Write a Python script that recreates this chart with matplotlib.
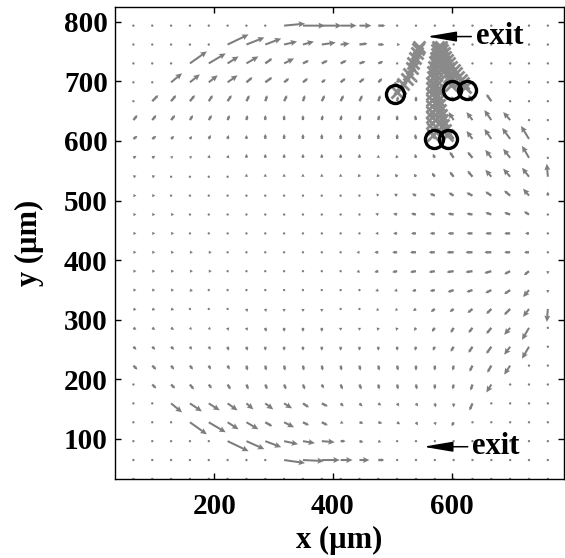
import numpy as np
import matplotlib.pyplot as plt

# grid of the velocity field (um), columns left->right, rows top->bottom
x_grid = np.linspace(32, 762, 24)
y_grid = np.linspace(825, 33, 26)

# arrow components (screen pixels, +x right, +y up)
U = [
    [0]*24,
    [0, 0, 0, 0, 0, 0, 0, 0, 0, 21, 22, 20, 16, 12, 7, 0, 0, 0, 0, 0, 0, 0, 0, 0],
    [0, 0, 0, 0, 0, 0, 21, 18, 16, 13, 11, 14, 9, 8, 6, 3, 0, 0, 0, 0, 0, 0, 0, 0],
    [0, 0, 0, 0, 17, 17, 11, 12, 7, 10, 6, 6, 6, 6, 5, 2, 0, 0, 0, 0, 0, 0, 0, 0],
    [0, 0, 0, 11, 10, 9, 10, 6, 7, 5, 5, 4, 5, 5, 4, 2, 1, 0, 0, 0, 0, 0, 0, 0],
    [0, 0, 6, 5, 5, 4, 4, 3, 2, 3, 2, 3, 3, 3, 2, 1, 0, -1, -2, -4, -5, 0, 0, 0],
    [0, 4, 4, 4, 3, 3, 2, 1, 0, 0, 0, 1, 1, 1, 1, 0, -1, -2, -5, -6, -7, -7, 0, 0],
    [0, 4, 4, 3, 2, 2, 1, 0, 0, 0, 0, 0, 0, 0, 0, 0, -1, -2, -5, -6, -7, -8, -8, 0],
    [0, 3, 3, 2, 2, 1, 1, 0, 0, 0, 0, 0, 0, 0, 0, -1, -1, -2, -4, -5, -6, -7, -7, 0],
    [0, 3, 3, 2, 2, 1, 1, 0, 0, 0, 0, 0, 0, -1, -1, -2, -2, -3, -4, -5, -6, -7, -7, -1],
    [0, 3, 3, 2, 2, 1, 1, 0, 0, 0, 0, 0, 0, -1, -2, -3, -4, -5, -5, -6, -6, -6, -6, 0],
    [0, 3, 3, 3, 2, 2, 1, 1, 1, 0, 0, 0, -1, -2, -3, -4, -5, -5, -6, -6, -6, -6, -5, 0],
    [0, 3, 3, 3, 2, 2, 1, 0, 0, 0, 0, 1, -1, -2, -3, -4, -5, -5, -6, -6, -6, -6, -4, 0],
    [0, 3, 3, 3, 3, 3, 1, 0, 0, 0, 0, 2, -1, -3, -4, -5, -6, -6, -7, -7, -7, -6, -5, 0],
    [0, 3, 3, 3, 3, 3, 2, 1, 1, 0, 0, 1, -1, -3, -4, -5, -6, -6, -7, -7, -7, -6, -5, 0],
    [0, 3, 3, 3, 3, 2, 2, 1, 1, 0, 0, 0, -1, -2, -3, -3, -4, -5, -6, -6, -6, -6, -6, 0],
    [0, 3, 3, 3, 2, 2, 1, 1, 1, 0, 0, 0, 0, -1, -2, -2, -3, -4, -4, -5, -5, -6, -6, -1],
    [0, 3, 3, 3, 2, 2, 1, 1, 1, 0, 0, 0, 0, 0, -1, -1, -2, -3, -3, -4, -5, -6, -7, 0],
    [0, 3, 3, 3, 2, 2, 1, 1, 0, 0, 0, 0, 0, 0, 0, 0, -1, -2, -3, -4, -5, -6, -7, 0],
    [0, 4, 4, 3, 3, 2, 2, 1, 1, 1, 1, 1, 1, 1, 1, 1, 0, 0, -1, -3, -4, -6, 0, 0],
    [0, 0, 4, 4, 4, 3, 3, 2, 2, 2, 2, 2, 2, 2, 1, 1, 1, 0, -1, -2, -5, 0, 0, 0],
    [0, 0, 0, 11, 12, 11, 10, 7, 8, 8, 6, 6, 3, 3, 3, 2, 2, 1, 0, -3, 0, 0, 0, 0],
    [0, 0, 0, 0, 17, 17, 11, 12, 7, 10, 6, 6, 3, 4, 4, 3, 2, 1, -2, 0, 0, 0, 0, 0],
    [0, 0, 0, 0, 0, 0, 21, 18, 16, 14, 12, 13, 5, 4, 3, 2, 0, 0, 0, 0, 0, 0, 0, 0],
    [0, 0, 0, 0, 0, 0, 0, 0, 0, 21, 21, 18, 12, 10, 6, 0, 0, 0, 0, 0, 0, 0, 0, 0],
    [0]*24,
]
V = [
    [0]*24,
    [0, 0, 0, 0, 0, 0, 0, 0, 0, 2, 0, 0, 0, 0, 0, 0, 0, 0, 0, 0, 0, 0, 0, 0],
    [0, 0, 0, 0, 0, 0, 10, 7, 6, 3, 3, 2, 1, 1, 0, 0, 0, 0, 0, 0, 0, 0, 0, 0],
    [0, 0, 0, 0, 12, 10, 7, 7, 5, 5, 3, 3, 3, 2, 2, 1, 0, 0, 0, 0, 0, 0, 0, 0],
    [0, 0, 0, 9, 8, 7, 7, 5, 5, 4, 4, 3, 4, 4, 4, 3, 3, 0, 0, 0, 0, 0, 0, 0],
    [0, 0, 6, 6, 6, 6, 6, 6, 6, 6, 6, 6, 6, 6, 6, 5, 5, 5, 5, 6, 7, 0, 0, 0],
    [0, 5, 5, 5, 5, 5, 5, 5, 5, 5, 5, 5, 5, 5, 5, 5, 5, 6, 8, 8, 10, 8, 0, 0],
    [0, 3, 3, 3, 3, 4, 4, 4, 5, 5, 5, 5, 5, 5, 5, 5, 5, 5, 7, 8, 10, 11, 13, 0],
    [0, 2, 2, 2, 2, 3, 3, 4, 4, 4, 4, 4, 4, 4, 3, 3, 4, 4, 6, 6, 8, 9, 12, 2],
    [0, 1, 1, 1, 1, 2, 2, 3, 3, 3, 3, 3, 3, 3, 3, 3, 3, 4, 5, 6, 7, 8, 9, 13],
    [0, 0, 0, 0, 1, 1, 1, 1, 1, 2, 2, 2, 2, 2, 2, 2, 2, 2, 3, 3, 4, 5, 7, 4],
    [0, 0, 0, 0, 0, 0, 0, 0, 0, 1, 0, 1, 0, 1, 1, 1, 1, 1, 1, 1, 2, 2, 3, 2],
    [0]*24,
    [0]*24,
    [0, 0, 0, 0, 0, 0, 0, 0, 0, 0, 0, -1, 0, -1, -1, -1, -1, -1, -1, -1, -2, -3, -4, -3],
    [0, 0, 0, 0, -1, -1, -1, -1, -1, -1, -1, -1, -1, -1, -1, -1, -1, -1, -2, -2, -3, -4, -7, -3],
    [0, -1, -1, -1, -1, -1, -2, -3, -3, -3, -3, -3, -2, -2, -2, -2, -2, -3, -3, -4, -5, -6, -8, -13],
    [0, -2, -2, -2, -2, -2, -3, -3, -4, -4, -4, -4, -3, -3, -3, -3, -3, -4, -5, -5, -6, -7, -12, 0],
    [0, -3, -3, -3, -3, -3, -4, -4, -4, -4, -4, -4, -4, -4, -4, -4, -4, -4, -5, -6, -7, -8, -12, 0],
    [0, -4, -4, -4, -4, -4, -4, -5, -5, -5, -5, -5, -5, -5, -5, -5, -5, -5, -5, -6, -7, -9, 0, 0],
    [0, 0, -4, -4, -5, -4, -5, -5, -5, -5, -5, -4, -5, -5, -5, -5, -5, -5, -5, -6, -8, 0, 0, 0],
    [0, 0, 0, -9, -8, -7, -7, -6, -6, -5, -4, -3, -3, -3, -2, -3, -3, -4, -4, -7, 0, 0, 0, 0],
    [0, 0, 0, 0, -12, -10, -7, -7, -4, -5, -3, -3, -1, -1, -1, -2, -3, -3, -4, 0, 0, 0, 0, 0],
    [0, 0, 0, 0, 0, 0, -10, -8, -6, -3, -2, -1, 0, -1, -1, -1, 0, 0, 0, 0, 0, 0, 0, 0],
    [0, 0, 0, 0, 0, 0, 0, 0, 0, -3, -1, 0, 0, 0, 0, 0, 0, 0, 0, 0, 0, 0, 0, 0],
    [0]*24,
]

# particle tracks (um)
tracks = {
    "A": ([507.3, 512.9, 518.5, 524.1, 528.6, 532.6, 535.4, 538.2, 541.0, 543.2, 544.9],
          [682.6, 688.2, 695.5, 703.3, 712.2, 721.7, 730.1, 739.6, 748.0, 754.7, 758.1]),
    "B": ([598.3, 596.6, 594.9, 592.7, 590.4, 588.2, 585.9, 584.2, 582.6, 580.9, 579.7],
          [693.8, 701.0, 707.8, 714.5, 721.2, 727.3, 733.5, 739.6, 745.2, 750.8, 755.8]),
    "C": ([622.4, 619.1, 615.1, 611.2, 607.3, 603.3, 599.4, 595.5, 592.1, 589.3, 586.5, 583.7, 581.4],
          [691.0, 696.6, 702.2, 707.8, 713.3, 718.9, 724.5, 730.1, 735.7, 741.3, 746.9, 752.5, 757.0]),
    "D": ([569.1, 568.0, 567.4, 566.8, 566.3, 566.3, 566.3, 566.3, 566.8, 567.4, 568.0, 569.1,
           570.2, 571.3, 573.0, 574.7, 575.8, 577.5],
          [609.9, 619.4, 629.5, 639.5, 649.0, 658.5, 668.6, 678.7, 688.2, 697.7, 707.8, 716.1,
           724.5, 731.8, 738.5, 745.8, 752.5, 758.1]),
    "E": ([591.5, 588.7, 585.9, 583.7, 582.0, 580.3, 579.2, 577.5, 575.8, 574.7, 573.6, 573.0,
           573.0, 573.6, 574.7, 575.8, 576.9, 578.1, 579.2],
          [609.9, 618.3, 626.7, 635.1, 643.5, 651.8, 660.2, 668.6, 677.0, 685.4, 693.8, 702.2,
           710.5, 718.9, 727.3, 734.6, 741.3, 748.6, 755.3]),
}
# starting positions (um)
start_x = [504.5, 600.0, 625.0, 571.0, 594.0]
start_y = [679.0, 686.0, 685.0, 604.0, 604.0]

# exits (arrow head positions, um)
exit_x = [558, 552]
exit_y = [775, 87]

plt.rcParams["font.family"] = "Liberation Serif"
plt.rcParams["font.weight"] = "bold"

fig = plt.figure(figsize=(5.65, 5.58), dpi=100)
ax = fig.add_axes([0.203, 0.1416, 0.7952, 0.8464])

X, Y = np.meshgrid(x_grid, y_grid)
Ua = np.array(U, float)
Va = np.array(V, float)
long_mask = np.hypot(Ua, Va) >= 9
gray = "#7d7d7d"

# long arrows: visible heads
ax.quiver(X[long_mask], Y[long_mask], Ua[long_mask], Va[long_mask], color=gray,
          angles="xy", scale_units="xy", scale=0.595, pivot="tail",
          width=0.0045, headwidth=3, headlength=3.2, headaxislength=2.8,
          zorder=2)
# short arrows and dots: mostly shaft, tiny heads
ax.quiver(X[~long_mask], Y[~long_mask], Ua[~long_mask], Va[~long_mask], color=gray,
          angles="xy", scale_units="xy", scale=0.595, pivot="tail",
          width=0.0052, headwidth=1.5, headlength=1.3, headaxislength=1.2,
          minshaft=1, minlength=1.1, zorder=2)

for name, (tx, ty) in tracks.items():
    ax.plot(tx, ty, linestyle="none", marker="x", color="#8a8a8a",
            markersize=8.5, markeredgewidth=2.0, zorder=3)

ax.plot(start_x, start_y, linestyle="none", marker="o", markersize=13,
        markerfacecolor="none", markeredgecolor="black", markeredgewidth=2.4,
        zorder=4)

for ex, ey in zip(exit_x, exit_y):
    ax.annotate("", xy=(ex, ey), xytext=(ex + 75, ey),
                arrowprops=dict(arrowstyle="-|>,head_length=1.0,head_width=0.17",
                                color="black", lw=1.1, mutation_scale=18,
                                shrinkA=0, shrinkB=0), zorder=5)
    ax.text(ex + 83, ey, "exit", fontsize=22, fontweight="bold",
            ha="left", va="center", zorder=5)

ax.set_xlim(32.2, 789.2)
ax.set_ylim(32.9, 825.1)
ax.set_xticks([200, 400, 600])
ax.set_yticks([100, 200, 300, 400, 500, 600, 700, 800])
ax.tick_params(direction="in", length=4, width=1, top=True, right=True,
               labelsize=21)
ax.tick_params(axis="x", pad=10)
ax.tick_params(axis="y", pad=5)
for lab in ax.get_xticklabels() + ax.get_yticklabels():
    lab.set_fontweight("bold")
for sp in ax.spines.values():
    sp.set_linewidth(1.0)

ax.set_xlabel("x (\u00b5m)", fontsize=22, fontweight="bold", labelpad=4)
ax.set_ylabel("y (\u00b5m)", fontsize=22, fontweight="bold", labelpad=14)

fig.savefig("out.png", dpi=100)
